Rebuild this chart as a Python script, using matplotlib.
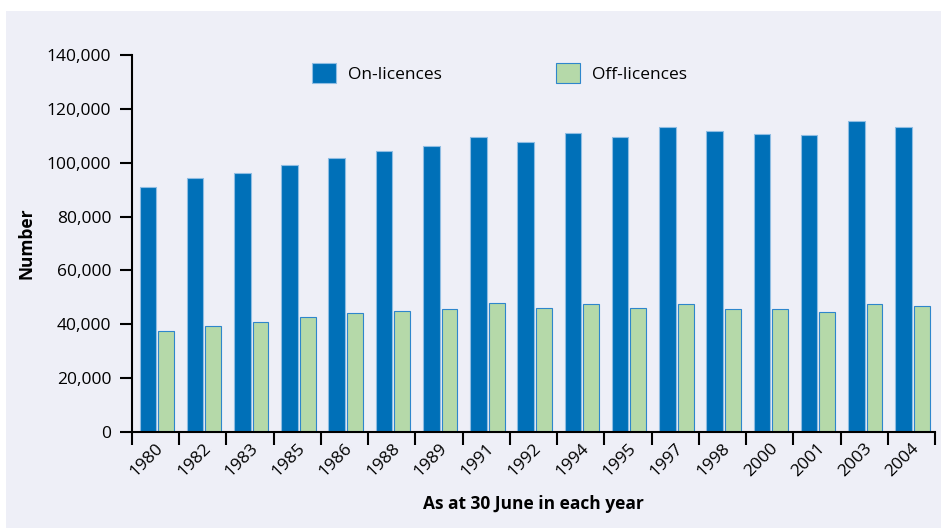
import matplotlib
matplotlib.use("Agg")
import matplotlib.pyplot as plt
from matplotlib.patches import Rectangle
import numpy as np

# Data
years = ["1980", "1982", "1983", "1985", "1986", "1988", "1989", "1991", "1992",
         "1994", "1995", "1997", "1998", "2000", "2001", "2003", "2004"]
on_licences = [90900, 94400, 96200, 99100, 101600, 104200, 106200, 109400, 107700,
               111100, 109600, 113200, 111600, 110600, 110300, 115400, 113400]
off_licences = [37400, 39500, 41000, 42700, 44100, 45000, 45700, 47900, 46100,
                47700, 46000, 47700, 45500, 45500, 44700, 47500, 46700]

plt.rcParams['font.family'] = ['Open Sans', 'DejaVu Sans']

W, H = 941, 531
fig = plt.figure(figsize=(W / 100, H / 100), dpi=100)
# light panel behind the chart
fig.patches.append(Rectangle((6 / W, 3 / H), 1 - 6 / W, 1 - 14 / H,
                             transform=fig.transFigure, facecolor="#eeeff7",
                             edgecolor="none", zorder=-10))

ax = fig.add_axes([132 / W, 1 - 432 / H, (935 - 132) / W, (432 - 55) / H])
ax.patch.set_visible(False)

x = np.arange(len(years))
ax.bar(x + 0.335, on_licences, width=0.35, color="#0070b8",
       edgecolor="#8fbde3", linewidth=0.8, label="On-licences")
ax.bar(x + 0.72, off_licences, width=0.335, color="#b5d9a9",
       edgecolor="#2e86cc", linewidth=0.8, label="Off-licences")

ax.set_xlim(0, len(years))
ax.set_ylim(0, 140000)
ax.set_yticks(np.arange(0, 140001, 20000))
ax.set_yticklabels([f"{v:,}" for v in range(0, 140001, 20000)], fontsize=12.5)

# group boundaries get the tick marks, labels sit under the bars
ax.set_xticks(np.arange(0, len(years) + 1))
ax.set_xticklabels([])
ax.set_xticks(x + 0.62, minor=True)
ax.set_xticklabels(years, minor=True, rotation=45, ha="right", va="center",
                   rotation_mode="anchor", fontsize=12.5)
ax.tick_params(axis="x", which="minor", length=0, pad=10)
ax.tick_params(axis="both", which="major", length=9, width=1.5, direction="out")
ax.tick_params(axis="y", pad=6)

for side in ["top", "right"]:
    ax.spines[side].set_visible(False)
for side in ["left", "bottom"]:
    ax.spines[side].set_linewidth(1.5)

ax.set_ylabel("Number", fontsize=12.5, fontweight="bold", labelpad=8)
ax.set_xlabel("As at 30 June in each year", fontsize=12.5, fontweight="bold", labelpad=11)

ax.legend(loc="center left", bbox_to_anchor=(312 / W, 1 - 73 / H),
          bbox_transform=fig.transFigure, ncol=2, frameon=False, fontsize=12.5,
          handlelength=1.4, handleheight=1.4, handletextpad=0.65,
          columnspacing=6.6, borderpad=0, borderaxespad=0)

fig.savefig("out.png", dpi=100)
